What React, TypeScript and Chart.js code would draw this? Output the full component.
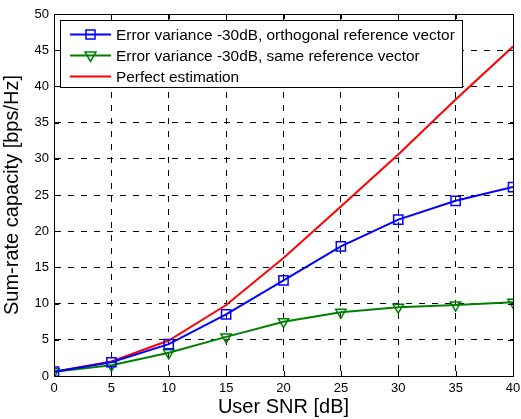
import React, { useEffect, useRef } from "react";
import { Chart, registerables } from "chart.js";

Chart.register(...registerables);

const snr = [0, 5, 10, 15, 20, 25, 30, 35, 40];
const orthogonal = [0.6, 1.9, 4.4, 8.5, 13.2, 17.9, 21.6, 24.2, 26.1];
const sameRef = [0.6, 1.5, 3.2, 5.4, 7.5, 8.8, 9.5, 9.8, 10.2];
const perfect = [0.6, 2.0, 4.9, 9.8, 16.3, 23.4, 30.6, 38.2, 45.5];

const labelOrth = "Error variance -30dB, orthogonal reference vector";
const labelSame = "Error variance -30dB, same reference vector";
const labelPerfect = "Perfect estimation";

const FONT = "'Liberation Sans', Arial, Helvetica, sans-serif";

const framePlugin = {
  id: "frame",
  afterDraw(chart: any) {
    const { ctx, chartArea } = chart;
    const { left, right, top, bottom } = chartArea;
    ctx.save();
    ctx.strokeStyle = "#000";
    ctx.lineWidth = 1;
    ctx.setLineDash([]);
    ctx.strokeRect(Math.round(left) + 0.5, Math.round(top) + 0.5, Math.round(right - left), Math.round(bottom - top));
    const xs = chart.scales.x;
    const ys = chart.scales.y;
    const tl = 5;
    ctx.beginPath();
    xs.ticks.forEach((t: any) => {
      const px = Math.round(xs.getPixelForValue(t.value)) + 0.5;
      ctx.moveTo(px, bottom);
      ctx.lineTo(px, bottom - tl);
      ctx.moveTo(px, top);
      ctx.lineTo(px, top + tl);
    });
    ys.ticks.forEach((t: any) => {
      const py = Math.round(ys.getPixelForValue(t.value)) + 0.5;
      ctx.moveTo(left, py);
      ctx.lineTo(left + tl, py);
      ctx.moveTo(right, py);
      ctx.lineTo(right - tl, py);
    });
    ctx.stroke();

    // legend
    const bx = 60.5, by = 20.5, bw = 402, bh = 67;
    ctx.fillStyle = "#fff";
    ctx.fillRect(bx, by, bw, bh);
    ctx.strokeRect(bx, by, bw, bh);
    const rows = [34.5, 55.5, 76.5];
    ctx.font = `15.4px ${FONT}`;
    ctx.textBaseline = "middle";
    ctx.textAlign = "left";
    chart.data.datasets.forEach((ds: any, i: number) => {
      const y = rows[i];
      ctx.strokeStyle = ds.borderColor;
      ctx.lineWidth = 2;
      ctx.beginPath();
      ctx.moveTo(70, y);
      ctx.lineTo(111, y);
      ctx.stroke();
      ctx.lineWidth = 1.5;
      if (ds.pointStyle === "rect") {
        ctx.strokeRect(86, y - 4.5, 9, 9);
      } else if (ds.pointStyle === "triangle") {
        ctx.beginPath();
        ctx.moveTo(85, y - 3.5);
        ctx.lineTo(96, y - 3.5);
        ctx.lineTo(90.5, y + 6);
        ctx.closePath();
        ctx.stroke();
      }
      ctx.fillStyle = "#000";
      ctx.fillText(ds.label, 116, y + 1);
    });
    ctx.restore();
  },
};

export default function App() {
  const ref = useRef<HTMLCanvasElement>(null);
  useEffect(() => {
    const canvas = ref.current!;
    const gridCommon = {
      color: "#000",
      lineWidth: 1,
      drawTicks: false,
    };
    const chart = new Chart(canvas, {
      type: "line",
      data: {
        labels: snr,
        datasets: [
          {
            label: labelOrth,
            data: snr.map((x, i) => ({ x, y: orthogonal[i] })),
            borderColor: "#0000ff",
            backgroundColor: "rgba(0,0,0,0)",
            borderWidth: 2,
            pointStyle: "rect",
            pointRadius: 6.5,
            pointBorderWidth: 1.5,
            pointBackgroundColor: "rgba(0,0,0,0)",
            pointBorderColor: "#0000ff",
            tension: 0,
          },
          {
            label: labelSame,
            data: snr.map((x, i) => ({ x, y: sameRef[i] })),
            borderColor: "#008000",
            backgroundColor: "rgba(0,0,0,0)",
            borderWidth: 2,
            pointStyle: "triangle",
            pointRotation: 180,
            pointRadius: 6,
            pointBorderWidth: 1.5,
            pointBackgroundColor: "rgba(0,0,0,0)",
            pointBorderColor: "#008000",
            tension: 0,
          },
          {
            label: labelPerfect,
            data: snr.map((x, i) => ({ x, y: perfect[i] })),
            borderColor: "#ff0000",
            backgroundColor: "rgba(0,0,0,0)",
            borderWidth: 2,
            pointRadius: 0,
            tension: 0,
          },
        ],
      },
      options: {
        animation: false,
        responsive: false,
        maintainAspectRatio: false,
        layout: { padding: { top: 14, right: 8, left: 0, bottom: 0 } },
        plugins: {
          legend: { display: false },
          tooltip: { enabled: false },
        },
        scales: {
          x: {
            type: "linear",
            min: 0,
            max: 40,
            grid: gridCommon,
            border: { display: true, color: "#000", dash: [6, 7] },
            ticks: {
              stepSize: 5,
              color: "#000",
              padding: 5,
              font: { family: FONT, size: 13 },
              maxRotation: 0,
            },
            title: {
              display: true,
              text: "User SNR [dB]",
              color: "#000",
              font: { family: FONT, size: 20 },
              padding: { top: 0, bottom: 0 },
            },
            afterFit(scale: any) {
              scale.height = 43;
              scale.paddingRight = 0;
              scale.paddingLeft = 0;
            },
          },
          y: {
            type: "linear",
            min: 0,
            max: 50,
            grid: gridCommon,
            border: { display: true, color: "#000", dash: [6, 7] },
            ticks: {
              stepSize: 5,
              color: "#000",
              padding: 5,
              font: { family: FONT, size: 13 },
            },
            title: {
              display: true,
              text: "Sum-rate capacity [bps/Hz]",
              color: "#000",
              font: { family: FONT, size: 20 },
              padding: { top: 0, bottom: 4 },
            },
            afterFit(scale: any) {
              scale.width = 54;
              scale.paddingTop = 0;
              scale.paddingBottom = 0;
            },
          },
        },
      },
      plugins: [framePlugin],
    } as any);
    return () => chart.destroy();
  }, []);
  return (
    <div style={{ position: "fixed", left: 0, top: 0, width: 521, height: 419, background: "#fff" }}>
      <canvas ref={ref} width={521} height={419} style={{ width: 521, height: 419 }} />
    </div>
  );
}
